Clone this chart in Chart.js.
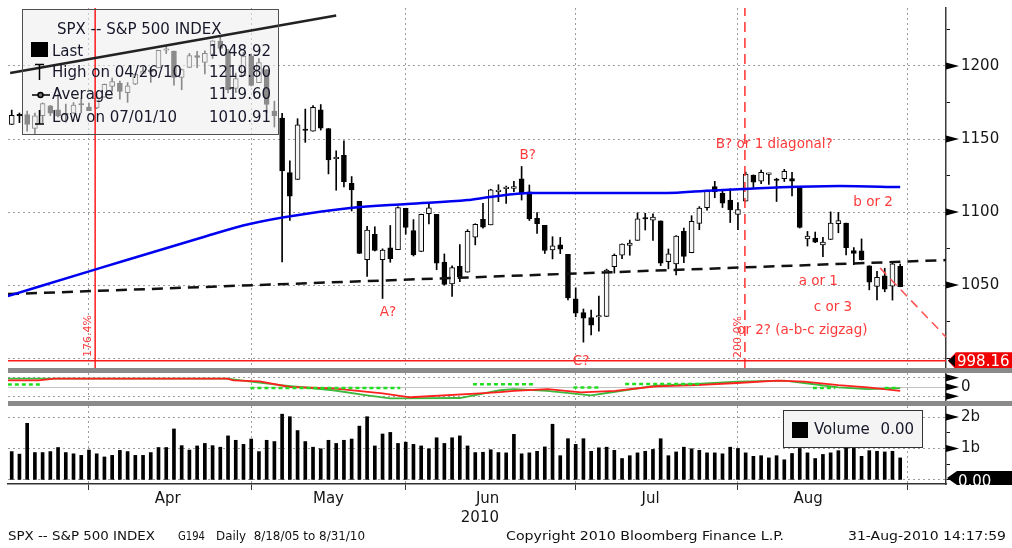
<!DOCTYPE html>
<html>
<head>
<meta charset="utf-8">
<title>SPX -- S&P 500 INDEX</title>
<script src="https://cdn.jsdelivr.net/npm/chart.js@4.4.1/dist/chart.umd.min.js"></script>
<style>
  html, body { margin: 0; padding: 0; background: #ffffff; }
  #wrap { position: relative; width: 1012px; height: 548px; overflow: hidden; background: #fff; }
  #wrap canvas { position: absolute; left: 0; }
</style>
</head>
<body>
<div id="wrap">
  <canvas id="priceChart" width="1012" height="368" style="top:0px"></canvas>
  <canvas id="oscChart" width="1012" height="38" style="top:368px"></canvas>
  <canvas id="volChart" width="1012" height="142" style="top:406px"></canvas>
</div>
<script>
// daily bars, 17 Mar 2010 .. 30 Aug 2010
const dates = [
  '03/17','03/18','03/19','03/22','03/23','03/24','03/25','03/26','03/29','03/30','03/31',
  '04/01','04/05','04/06','04/07','04/08','04/09','04/12','04/13','04/14','04/15','04/16','04/19','04/20','04/21','04/22','04/23','04/26','04/27','04/28','04/29','04/30',
  '05/03','05/04','05/05','05/06','05/07','05/10','05/11','05/12','05/13','05/14','05/17','05/18','05/19','05/20','05/21','05/24','05/25','05/26','05/27','05/28',
  '06/01','06/02','06/03','06/04','06/07','06/08','06/09','06/10','06/11','06/14','06/15','06/16','06/17','06/18','06/21','06/22','06/23','06/24','06/25','06/28','06/29','06/30',
  '07/01','07/02','07/06','07/07','07/08','07/09','07/12','07/13','07/14','07/15','07/16','07/19','07/20','07/21','07/22','07/23','07/26','07/27','07/28','07/29','07/30',
  '08/02','08/03','08/04','08/05','08/06','08/09','08/10','08/11','08/12','08/13','08/16','08/17','08/18','08/19','08/20','08/23','08/24','08/25','08/26','08/27','08/30'
];
const opens = [
  1159.9,1166.1,1166.7,1157.3,1166.0,1172.7,1170.0,1167.6,1167.7,1173.8,1171.8,
  1171.2,1178.7,1186.0,1188.2,1181.8,1187.5,1194.9,1195.9,1198.7,1210.8,1210.2,1192.1,1199.0,1207.2,1202.5,1207.9,1217.1,1209.9,1184.6,1193.3,1206.8,
  1188.6,1197.5,1169.2,1164.4,1127.0,1122.3,1156.4,1155.4,1170.0,1157.2,1136.5,1138.8,1119.6,1107.3,1067.3,1084.8,1067.4,1075.5,1074.3,1102.6,
  1087.3,1073.0,1098.8,1098.4,1065.8,1050.8,1062.8,1058.8,1082.7,1095.0,1091.2,1114.0,1116.0,1116.2,1122.8,1113.9,1095.6,1090.9,1074.0,1077.5,1071.1,1040.6,
  1031.1,1027.7,1028.1,1028.5,1062.5,1070.5,1077.2,1080.6,1095.6,1094.5,1093.9,1066.0,1064.5,1086.7,1072.1,1092.2,1102.9,1117.4,1112.8,1108.1,1098.4,
  1107.5,1125.3,1121.1,1125.8,1122.1,1122.8,1122.9,1116.9,1081.5,1082.2,1077.5,1081.2,1092.1,1092.4,1073.6,1073.4,1063.2,1049.0,1056.3,1049.3,1062.9
];
const highs = [
  1169.8,1167.8,1169.2,1167.8,1174.7,1173.0,1180.7,1173.9,1174.9,1177.8,1174.6,
  1181.4,1187.7,1191.8,1189.6,1188.6,1194.7,1199.2,1199.0,1210.7,1213.9,1210.2,1197.9,1208.6,1210.0,1210.3,1217.3,1219.8,1211.4,1195.1,1209.4,1208.0,
  1205.1,1197.5,1175.9,1167.6,1135.1,1163.9,1170.5,1172.9,1173.6,1157.2,1141.9,1148.7,1124.3,1107.3,1090.2,1089.9,1074.8,1090.8,1103.5,1102.6,
  1094.8,1098.6,1105.7,1098.4,1071.3,1063.2,1077.7,1087.9,1092.0,1105.9,1115.6,1118.7,1117.7,1121.0,1131.2,1118.5,1099.6,1090.9,1083.1,1082.6,1071.1,1048.1,
  1033.6,1032.9,1042.5,1060.9,1071.3,1078.2,1080.8,1099.5,1099.1,1098.7,1093.9,1074.7,1083.9,1089.0,1097.5,1103.7,1115.0,1121.0,1114.7,1115.9,1106.4,
  1127.3,1125.4,1128.8,1126.6,1123.1,1129.2,1127.2,1116.9,1086.7,1086.3,1082.6,1100.1,1099.8,1092.4,1075.6,1081.6,1063.2,1059.4,1061.5,1065.2,1064.4
];
const lows = [
  1159.9,1161.2,1155.3,1152.9,1161.2,1166.0,1165.1,1161.5,1167.7,1168.0,1169.4,
  1170.7,1178.7,1182.8,1177.3,1175.1,1187.2,1194.7,1188.8,1198.7,1208.5,1186.8,1183.7,1199.0,1198.9,1194.6,1205.1,1211.1,1181.6,1181.8,1193.3,1186.3,
  1188.6,1168.1,1158.2,1065.8,1094.2,1122.3,1147.7,1155.4,1156.1,1126.1,1114.9,1117.2,1100.7,1071.6,1055.9,1073.3,1040.8,1065.6,1074.3,1084.8,
  1069.9,1072.9,1091.8,1060.5,1049.9,1042.2,1052.3,1058.8,1077.5,1089.0,1091.2,1107.1,1105.9,1113.9,1108.2,1094.2,1085.3,1071.6,1067.9,1071.5,1039.8,1028.3,
  1010.9,1015.9,1018.4,1028.5,1058.2,1068.1,1070.4,1080.6,1087.7,1080.5,1063.3,1061.1,1056.9,1065.3,1072.1,1087.9,1101.3,1109.8,1103.1,1092.8,1088.0,
  1107.5,1116.8,1119.5,1118.9,1107.2,1120.9,1111.0,1089.0,1076.7,1079.0,1069.5,1081.2,1085.8,1070.7,1063.9,1067.1,1046.7,1039.8,1045.4,1039.7,1048.8
];
const closes = [
  1166.2,1165.8,1159.9,1165.8,1174.2,1167.7,1165.7,1166.6,1173.2,1173.3,1169.4,
  1178.1,1187.4,1189.4,1182.5,1186.4,1194.4,1196.5,1197.3,1210.7,1211.7,1192.1,1197.5,1207.2,1205.9,1208.7,1217.3,1212.1,1183.7,1191.4,1206.8,1186.7,
  1202.3,1173.6,1165.9,1128.2,1110.9,1159.7,1155.8,1171.7,1157.4,1135.7,1136.9,1120.8,1115.1,1071.6,1087.7,1073.7,1074.0,1068.0,1103.1,1089.4,
  1070.7,1098.4,1102.8,1064.9,1050.5,1062.0,1055.7,1086.8,1091.6,1089.6,1115.2,1114.6,1116.0,1117.5,1113.2,1095.3,1092.0,1073.7,1076.8,1074.6,1041.2,1030.7,
  1027.4,1022.6,1028.1,1060.3,1070.3,1078.0,1078.8,1095.3,1095.2,1096.5,1064.9,1071.3,1083.5,1069.6,1093.7,1102.7,1115.0,1113.8,1106.1,1101.5,1101.6,
  1125.9,1120.5,1127.2,1125.8,1121.6,1127.8,1121.1,1089.5,1083.6,1079.3,1079.4,1092.5,1094.2,1075.6,1071.7,1067.4,1051.9,1055.3,1047.2,1064.6,1048.9
];
// volume, billions
const volumes = [
  0.90,0.82,1.80,0.87,0.87,0.90,1.03,0.87,0.83,0.78,0.95,
  0.83,0.73,0.78,0.94,0.90,0.78,0.78,0.87,1.03,1.03,1.62,1.09,0.95,1.08,1.16,1.09,1.04,1.40,1.26,1.13,1.30,
  0.90,1.26,1.22,2.09,2.01,1.57,1.22,1.04,0.99,1.26,1.16,1.26,1.30,1.71,2.01,1.08,1.46,1.51,1.16,1.20,
  1.13,1.08,0.99,1.34,1.16,1.34,1.40,1.08,0.87,0.88,0.96,0.87,0.86,1.45,0.83,0.86,0.91,1.05,1.77,0.77,1.31,1.13,
  1.31,0.91,1.02,1.04,0.94,0.68,0.77,0.86,0.91,0.97,1.31,0.77,0.89,1.04,0.99,0.94,0.86,0.86,0.83,1.04,1.00,
  0.86,0.75,0.77,0.70,0.77,0.64,0.84,1.00,0.86,0.68,0.81,0.86,0.93,1.05,1.04,0.75,0.93,0.91,0.89,0.91,0.70
];

// moving average (blue), read at a few bars
const maAt = [-0.5, 11.4, 24.4, 30.8, 43.8, 51.2, 59, 61.9, 67.1, 76.1, 84.8, 89.5, 94.7, 100.7, 107.2, 115];
const maValues = [1042.5, 1061.6, 1082.2, 1091.8, 1102.7, 1105.5, 1108.2, 1110.3, 1113.0, 1113.0, 1113.0, 1114.4, 1115.8, 1117.1, 1117.8, 1117.1];

// drawn lines
const supportAt = [-0.48, 120.93];
const supportPrice = [1043.8, 1067.1];
const upperAt = [-0.2, 42];
const upperPrice = [1195.2, 1234.6];
const fallAt = [112.4, 120.93];
const fallPrice = [1061.6, 1014.4];
const levelPrice = 998.16;
const fibLineAt = [10.8, 94.9];
const fibLineText = ['176.4%', '200.0%'];
const fibTextPrice = [1015.1, 1014.4];

// wave labels
const noteText = ['B?', 'A?', 'C?', 'B? or 1 diagonal?', 'b or 2', 'a or 1', 'c or 3'];
const noteAt = [66.8, 48.7, 73.7, 98.7, 111.5, 104.4, 106.3];
const notePrice = [1139.0, 1031.5, 997.9, 1145.9, 1106.2, 1052.1, 1034.9];
const zigzagText = 'or 2? (a-b-c zigzag)';
const zigzagAt = 93.9, zigzagPrice = 1019.2;

// oscillator
const oscRedAt = [-0.5, 3.5, 5.5, 27.9, 28.7, 32.1, 36, 41.6, 48, 51.6, 60.6, 63.2, 65, 69.4, 73.7, 78.1, 83.4, 88.6, 93.9, 99.1, 102.6, 107, 110.8, 115];
const oscRed = [0.72, 0.72, 0.9, 0.9, 0.72, 0.61, 0.0, -0.14, -0.68, -1.1, -0.68, -0.54, -0.41, -0.22, -0.57, -0.41, 0.08, 0.21, 0.43, 0.69, 0.57, 0.21, -0.03, -0.41];
const oscGreenAt = [-0.5, 27.9, 31.2, 35.1, 41.6, 46, 49, 58, 63.2, 65, 69.3, 75, 78.1, 83.4, 88.6, 93.9, 100, 102.6, 107, 110.8, 115];
const oscGreen = [0.9, 0.9, 0.54, 0.18, -0.35, -0.89, -1.21, -1.18, -0.35, -0.22, -0.41, -0.89, -0.51, 0.14, 0.32, 0.57, 0.69, 0.43, -0.03, -0.22, -0.12];
const sigFrom = [-0.5, 30.9, 59.7, 72.7, 79.4, 103.7, 113];
const sigTo = [4, 50.3, 67.6, 76.2, 89.1, 106.6, 114.8];
const sigValue = [0.26, -0.1, 0.3, -0.05, 0.32, -0.12, -0.12];

// axes
const priceTicks = [1000, 1025, 1050, 1075, 1100, 1125, 1150, 1175, 1200, 1225];
const priceLabels = ['', '', '1050', '', '1100', '', '1150', '', '1200', ''];
const priceGrid = [1000, 1050, 1100, 1150, 1200];
const priceMajor = [1050, 1100, 1150, 1200];
const oscTicks = [-1, 0, 1];
const oscLabels = ['', '0', ''];
const volTicks = [0, 0.5, 1, 1.5, 2];
const volLabels = ['', '', '1b', '', '2b'];
const volGrid = [0, 1, 2];
const volMajor = [1, 2];
const monthEnds = [10, 31, 51, 73, 94, 116];
const monthLabelAt = [20.2, 41, 60.6, 61.6, 82.7, 103.1];
const monthLabels = ['Apr', 'May', ['', '2010'], 'Jun', 'Jul', 'Aug'];

const legendTitle = 'SPX -- S&P 500 INDEX';
const legendLabels = ['Last', 'High on 04/26/10', 'Average', 'Low on 07/01/10'];
const legendValues = ['1048.92', '1219.80', '1119.60', '1010.91'];
const footerText = ['SPX -- S&P 500 INDEX', 'G194', 'Daily  8/18/05 to 8/31/10', 'Copyright 2010 Bloomberg Finance L.P.', '31-Aug-2010 14:17:59'];
const footerSpan = [[8, 155], [178, 205], [216, 365], [506, 784], [848, 1006]];

const X_MIN = -0.48, X_MAX = 120.93;
const CLEAR = 'rgba(0,0,0,0)';
const GRID = '#9c9c9c';
const RED = '#ff3a3a';
const FONT = '"DejaVu Sans", Verdana, sans-serif';
const idx = dates.map((d, i) => i);

Chart.defaults.font.family = FONT;
Chart.defaults.color = '#161616';

function lineSet(xs, ys, color, width, dash) {
  return {
    type: 'line', data: xs.map((x, k) => ({ x: x, y: ys[k] })),
    borderColor: color, borderWidth: width, borderDash: dash || [],
    pointRadius: 0, tension: 0, fill: false, spanGaps: false, order: 0
  };
}

function gridX() {
  return {
    type: 'linear', min: X_MIN, max: X_MAX, offset: false, bounds: 'data',
    afterBuildTicks: s => { s.ticks = monthEnds.map(v => ({ value: v })); },
    afterFit: s => { s.height = 0; s.paddingLeft = 0; s.paddingRight = 0; },
    ticks: { display: false, autoSkip: false },
    grid: { color: GRID, lineWidth: 1, drawTicks: false, offset: false },
    border: { display: false, dash: [2, 3] }
  };
}

function rightAxis(min, max, vals, labels, gridColor) {
  return {
    type: 'linear', position: 'right', min: min, max: max, beginAtZero: false,
    afterBuildTicks: s => { s.ticks = vals.map(v => ({ value: v })); },
    afterFit: s => { s.width = 66; s.paddingTop = 0; s.paddingBottom = 0; },
    ticks: { autoSkip: false, padding: 11, font: { size: 15 }, color: '#161616',
             callback: v => labels[vals.indexOf(v)] },
    grid: { color: gridColor, lineWidth: 1, tickLength: 4, tickColor: '#111', tickWidth: 1, tickBorderDash: [] },
    border: { display: true, color: '#3a3a3a', width: 1.5, dash: c => (c.tick && c.tick.value === 0 && vals === oscTicks) ? [] : [2, 3] }
  };
}

function wedges(chart, values) {
  const s = chart.scales.y, ctx = chart.ctx, x = s.left;
  ctx.save();
  ctx.fillStyle = '#000';
  values.forEach(v => {
    const y = s.getPixelForValue(v);
    ctx.beginPath();
    ctx.moveTo(x, y - 3.5); ctx.lineTo(x + 13, y); ctx.lineTo(x, y + 3.5);
    ctx.closePath(); ctx.fill();
  });
  ctx.restore();
}

const baseOptions = {
  responsive: false, animation: false, devicePixelRatio: 1, events: [],
  plugins: { legend: { display: false }, tooltip: { enabled: false } }
};

// ---------- price panel ----------
const priceDecor = {
  id: 'priceDecor',
  beforeDraw(chart) { chart.$boxDone = false; },
  beforeDatasetDraw(chart, args) {
    if (!chart.$boxDone && args.meta.type === 'line') {
      const ctx = chart.ctx;
      ctx.save();
      ctx.fillStyle = 'rgba(238,238,238,0.58)';
      ctx.fillRect(22, 9, 256, 125);
      ctx.restore();
      chart.$boxDone = true;
    }
  },
  afterDatasetsDraw(chart) {
    const ctx = chart.ctx, xs = chart.scales.x, ys = chart.scales.y;
    ctx.save();
    // wave labels
    ctx.fillStyle = RED;
    ctx.font = '13.5px ' + FONT;
    ctx.textBaseline = 'middle';
    ctx.textAlign = 'center';
    noteText.forEach((t, k) => ctx.fillText(t, xs.getPixelForValue(noteAt[k]), ys.getPixelForValue(notePrice[k])));
    ctx.textAlign = 'left';
    ctx.fillText(zigzagText, xs.getPixelForValue(zigzagAt), ys.getPixelForValue(zigzagPrice));
    ctx.font = '11px ' + FONT;
    ctx.textAlign = 'center';
    fibLineText.forEach((t, k) => {
      ctx.save();
      ctx.translate(xs.getPixelForValue(fibLineAt[k]) - 7, ys.getPixelForValue(fibTextPrice[k]));
      ctx.rotate(-Math.PI / 2);
      ctx.fillText(t, 0, 0);
      ctx.restore();
    });
    // legend box
    ctx.strokeStyle = '#505050';
    ctx.lineWidth = 1;
    ctx.strokeRect(22.5, 9.5, 256, 125);
    ctx.fillStyle = '#17172a';
    ctx.font = '15px ' + FONT;
    ctx.textAlign = 'left';
    ctx.fillText(legendTitle, 57, 30);
    const rowY = [52, 73, 95, 118];
    legendLabels.forEach((t, k) => {
      ctx.textAlign = 'left';
      ctx.fillText(t, 52, rowY[k]);
      ctx.textAlign = 'right';
      ctx.fillText(legendValues[k], 271, rowY[k]);
    });
    ctx.fillStyle = '#000';
    ctx.fillRect(31, 42, 17, 15);
    ctx.strokeStyle = '#000';
    ctx.lineWidth = 1.5;
    ctx.beginPath();
    ctx.moveTo(35, 64.5); ctx.lineTo(44, 64.5); ctx.moveTo(39.5, 64.5); ctx.lineTo(39.5, 80);
    ctx.moveTo(32, 95); ctx.lineTo(50, 95);
    ctx.moveTo(39.5, 110); ctx.lineTo(39.5, 124); ctx.moveTo(35, 124); ctx.lineTo(44, 124);
    ctx.stroke();
    ctx.fillStyle = '#777';
    ctx.beginPath(); ctx.arc(40.5, 95, 2.5, 0, Math.PI * 2); ctx.fill(); ctx.stroke();
    ctx.restore();
  },
  afterDraw(chart) {
    wedges(chart, priceMajor);
    const ctx = chart.ctx, y = chart.scales.y.getPixelForValue(levelPrice);
    ctx.save();
    ctx.fillStyle = '#f00000';
    ctx.beginPath();
    ctx.moveTo(948, y); ctx.lineTo(956, y - 8.5); ctx.lineTo(1012, y - 8.5); ctx.lineTo(1012, y + 9); ctx.lineTo(956, y + 9);
    ctx.closePath(); ctx.fill();
    ctx.fillStyle = '#000';
    ctx.beginPath(); ctx.moveTo(948, y); ctx.lineTo(955, y - 6); ctx.lineTo(955, y + 6); ctx.closePath(); ctx.fill();
    ctx.fillStyle = '#fff';
    ctx.font = '15px ' + FONT;
    ctx.textBaseline = 'middle';
    ctx.textAlign = 'left';
    ctx.fillText(levelPrice.toFixed(2), 957, y + 1);
    ctx.restore();
  }
};

new Chart(document.getElementById('priceChart'), {
  type: 'bar',
  data: {
    datasets: [
      { type: 'bar', data: idx.map(i => ({ x: i, y: [lows[i], highs[i]] })),
        backgroundColor: '#000', barThickness: 1, grouped: false, order: 2 },
      { type: 'bar', data: idx.map(i => ({ x: i, y: [opens[i], closes[i]] })),
        backgroundColor: idx.map(i => closes[i] >= opens[i] ? '#f6f6f6' : '#000'),
        borderColor: '#000', borderWidth: 1, borderSkipped: false, barThickness: 5,
        minBarLength: 1.5, grouped: false, order: 1 },
      Object.assign(lineSet(maAt, maValues, '#0000f0', 2.5), { cubicInterpolationMode: 'monotone' }),
      lineSet(supportAt, supportPrice, '#111', 2.5, [11, 7]),
      lineSet(upperAt, upperPrice, '#222', 2.5),
      lineSet([X_MIN, X_MAX], [levelPrice, levelPrice], '#ff1a1a', 1.5),
      lineSet([fibLineAt[0], fibLineAt[0]], [993.2, 1239.7], '#ff1a1a', 1.5),
      lineSet([fibLineAt[1], fibLineAt[1]], [993.2, 1239.7], '#ff3030', 1.5, [10, 6]),
      lineSet(fallAt, fallPrice, '#ff5050', 1.5, [9, 6])
    ]
  },
  options: Object.assign({}, baseOptions, {
    layout: { padding: { top: 8, left: 8, right: 0, bottom: 0 }, autoPadding: false },
    scales: {
      x: gridX(),
      y: rightAxis(993.2, 1239.7, priceTicks, priceLabels,
                   c => c.tick && priceGrid.includes(c.tick.value) ? GRID : CLEAR)
    }
  }),
  plugins: [priceDecor]
});

// ---------- oscillator panel ----------
const sigX = [], sigY = [];
sigFrom.forEach((f, k) => {
  sigX.push(f, sigTo[k], sigTo[k] + 0.01);
  sigY.push(sigValue[k], sigValue[k], null);
});

const oscDecor = {
  id: 'oscDecor',
  afterDraw(chart) {
    const ctx = chart.ctx;
    ctx.save();
    ctx.fillStyle = '#8a8a8a';
    ctx.fillRect(8, 0, 1004, 5);
    ctx.fillRect(8, 33, 1004, 5);
    ctx.restore();
    wedges(chart, oscTicks);
  }
};

new Chart(document.getElementById('oscChart'), {
  type: 'line',
  data: {
    datasets: [
      lineSet(sigX, sigY, '#22dd22', 2.5, [4, 3]),
      lineSet(oscRedAt, oscRed, '#ff2020', 1.8),
      lineSet(oscGreenAt, oscGreen, '#3cb83c', 1.8)
    ]
  },
  options: Object.assign({}, baseOptions, {
    layout: { padding: { top: 5, left: 8, right: 0, bottom: 5 }, autoPadding: false },
    scales: {
      x: gridX(),
      y: rightAxis(-1.5, 1.5, oscTicks, oscLabels,
                   c => c.tick && c.tick.value === 0 ? '#c4c4c4' : GRID)
    }
  }),
  plugins: [oscDecor]
});

// ---------- volume panel ----------
const volDecor = {
  id: 'volDecor',
  afterDraw(chart) {
    const ctx = chart.ctx;
    wedges(chart, volMajor);
    ctx.save();
    // legend
    ctx.fillStyle = '#f4f4f4';
    ctx.fillRect(783, 4, 139, 37);
    ctx.strokeStyle = '#333';
    ctx.lineWidth = 1;
    ctx.strokeRect(783.5, 4.5, 139, 37);
    ctx.fillStyle = '#000';
    ctx.fillRect(792, 16, 16, 16);
    ctx.fillStyle = '#17172a';
    ctx.font = '15px ' + FONT;
    ctx.textBaseline = 'middle';
    ctx.textAlign = 'left';
    ctx.fillText('Volume', 814, 24);
    ctx.textAlign = 'right';
    ctx.fillText('0.00', 914, 24);
    // last volume tag
    ctx.fillStyle = '#000';
    ctx.beginPath();
    ctx.moveTo(947, 72); ctx.lineTo(957, 65); ctx.lineTo(1012, 65); ctx.lineTo(1012, 79); ctx.lineTo(957, 79);
    ctx.closePath(); ctx.fill();
    ctx.save();
    ctx.beginPath(); ctx.rect(956, 65, 56, 14); ctx.clip();
    ctx.fillStyle = '#fff';
    ctx.textAlign = 'left';
    ctx.textBaseline = 'top';
    ctx.fillText('0.00', 958, 69);
    ctx.restore();
    // footer
    ctx.fillStyle = '#111';
    ctx.font = '12px ' + FONT;
    ctx.textAlign = 'left';
    ctx.textBaseline = 'middle';
    footerText.forEach((t, k) => {
      const w = ctx.measureText(t).width;
      ctx.save();
      ctx.translate(footerSpan[k][0], 131);
      ctx.scale((footerSpan[k][1] - footerSpan[k][0]) / w, 1);
      ctx.fillText(t, 0, 0);
      ctx.restore();
    });
    ctx.restore();
  }
};

new Chart(document.getElementById('volChart'), {
  type: 'bar',
  data: {
    datasets: [
      { type: 'bar', data: idx.map(i => ({ x: i, y: volumes[i] })),
        backgroundColor: '#000', barThickness: 3, grouped: false }
    ]
  },
  options: Object.assign({}, baseOptions, {
    layout: { padding: { top: 0, left: 8, right: 0, bottom: 0 }, autoPadding: false },
    scales: {
      x: {
        type: 'linear', min: X_MIN, max: X_MAX, offset: false, bounds: 'data',
        afterBuildTicks: s => {
          s.ticks = monthEnds.concat(monthLabelAt).sort((a, b) => a - b).map(v => ({ value: v }));
        },
        afterFit: s => { s.height = 64; s.paddingLeft = 0; s.paddingRight = 0; },
        ticks: {
          autoSkip: false, maxRotation: 0, minRotation: 0, padding: 0,
          font: { size: 15, lineHeight: 1.27 }, color: '#161616',
          callback: v => { const k = monthLabelAt.indexOf(v); return k < 0 ? '' : monthLabels[k]; }
        },
        grid: {
          color: c => c.tick && monthEnds.includes(c.tick.value) ? GRID : CLEAR,
          tickColor: c => c.tick && monthEnds.includes(c.tick.value) ? '#333' : CLEAR,
          drawTicks: true, tickLength: 6, tickBorderDash: [], offset: false
        },
        border: { display: true, color: '#333', width: 1.5, dash: [2, 3] }
      },
      y: rightAxis(-0.13, 2.35, volTicks, volLabels,
                   c => c.tick && volGrid.includes(c.tick.value) ? GRID : CLEAR)
    }
  }),
  plugins: [volDecor]
});
</script>
</body>
</html>
